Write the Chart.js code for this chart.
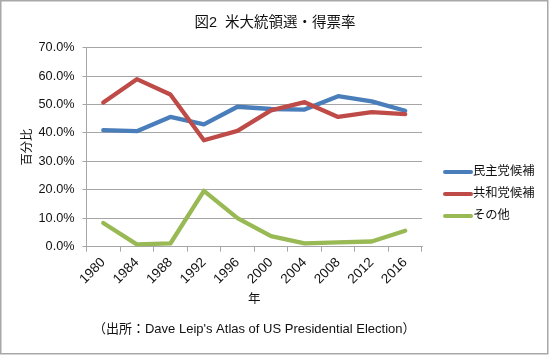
<!DOCTYPE html>
<html><head><meta charset="utf-8">
<script src="https://cdn.jsdelivr.net/npm/chart.js@4"></script>
<style>html,body{margin:0;padding:0;background:#fff}#wrap{width:550px;height:355px}</style>
</head><body><div id="wrap"><canvas id="c" width="550" height="355"></canvas></div>
<script>
const years = ['1980','1984','1988','1992','1996','2000','2004','2008','2012','2016'];
const demShare = [41.0, 40.6, 45.6, 43.0, 49.2, 48.4, 48.2, 52.9, 51.1, 47.8];
const repShare = [50.7, 58.9, 53.5, 37.4, 40.7, 47.9, 50.8, 45.6, 47.3, 46.6];
const otherShare = [8.3, 0.8, 1.1, 19.6, 10.0, 3.7, 1.1, 1.5, 1.8, 5.6];
const seriesNames = ['民主党候補', '共和党候補', 'その他'];
const seriesColors = ['#4A7EBB', '#BE4B48', '#98B954'];
const yMin = 0, yMax = 70, yStep = 10;
const titleText = '図2  米大統領選・得票率';
const yTitle = '百分比';
const xTitle = '年';
const sourceText = '（出所：Dave Leip\'s Atlas of US Presidential Election）';

const FF = "'Liberation Sans','Noto Sans CJK JP',sans-serif";
const GRID = '#A6A6A6';
Chart.defaults.color = '#111';
Chart.defaults.font.family = FF;

const frame = {
  id: 'frame',
  beforeDraw(chart) {
    const ctx = chart.ctx;
    ctx.save();
    ctx.fillStyle = '#fff';
    ctx.fillRect(0, 0, chart.width, chart.height);
    ctx.strokeStyle = '#A8A8A8';
    ctx.lineWidth = 1.5;
    ctx.strokeRect(0.75, 0.75, chart.width - 3, chart.height - 2);
    ctx.restore();
  }
};

const sideLegend = {
  id: 'sideLegend',
  afterDraw(chart) {
    const ctx = chart.ctx, a = chart.chartArea;
    ctx.save();
    chart.data.datasets.forEach((ds, i) => {
      const y = a.top + 124.5 + i * 22;
      const x0 = a.right + 23;
      ctx.strokeStyle = ds.borderColor;
      ctx.lineWidth = 4;
      ctx.lineCap = 'round';
      ctx.beginPath();
      ctx.moveTo(x0, y);
      ctx.lineTo(x0 + 26, y);
      ctx.stroke();
      ctx.fillStyle = '#111';
      ctx.font = '12.3px ' + FF;
      ctx.textAlign = 'left';
      ctx.textBaseline = 'middle';
      ctx.fillText(ds.label, x0 + 28, y);
    });
    ctx.restore();
  }
};

const mk = (i, data, order) => ({
  label: seriesNames[i], data, borderColor: seriesColors[i], backgroundColor: seriesColors[i],
  borderWidth: 4.3, pointRadius: 0, pointHoverRadius: 0, tension: 0,
  borderJoinStyle: 'round', borderCapStyle: 'round', order, clip: 6
});

new Chart(document.getElementById('c'), {
  type: 'line',
  data: {
    labels: years,
    datasets: [mk(0, demShare, 3), mk(1, repShare, 2), mk(2, otherShare, 1)]
  },
  options: {
    responsive: false, animation: false, devicePixelRatio: 1,
    layout: { padding: 0 },
    plugins: {
      legend: { display: false },
      tooltip: { enabled: false },
      title: { display: true, text: titleText, font: { size: 14.5, weight: 'normal' }, color: '#111', padding: { top: 14.4, bottom: 15.8 } },
      subtitle: { display: true, position: 'bottom', fullSize: false, text: sourceText, font: { size: 13 }, color: '#111', padding: { top: 10.7, bottom: 17.4 } }
    },
    scales: {
      x: {
        offset: true,
        grid: { display: true, drawOnChartArea: false, drawTicks: true, tickLength: 5, offset: true, color: GRID },
        border: { display: true, color: GRID, width: 1 },
        ticks: { minRotation: 45, maxRotation: 45, font: { size: 13.5 }, color: '#111', padding: 3, autoSkip: false },
        title: { display: true, text: xTitle, font: { size: 12.5 }, color: '#111', padding: { top: 0, bottom: 4 } },
        afterFit(s) { s.height = 64.7; }
      },
      y: {
        min: yMin, max: yMax,
        grid: { color: GRID, tickLength: 4, drawTicks: true },
        border: { display: true, color: GRID, width: 1 },
        ticks: { stepSize: yStep, padding: 8, font: { size: 12.7 }, color: '#111', callback: v => v.toFixed(1) + '%' },
        title: { display: true, text: yTitle, font: { size: 12.3 }, color: '#111', padding: { top: 20.5, bottom: 0 } },
        afterFit(s) { s.width = 86.5; }
      },
      yR: {
        position: 'right', display: true,
        grid: { display: false, drawTicks: false }, border: { display: false },
        ticks: { display: false },
        afterFit(s) { s.width = 128; }
      }
    }
  },
  plugins: [frame, sideLegend]
});
</script></body></html>
